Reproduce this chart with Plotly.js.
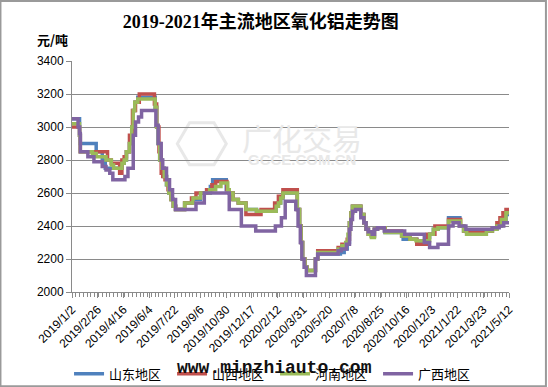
<!DOCTYPE html>
<html>
<head>
<meta charset="utf-8">
<script src="https://cdn.plot.ly/plotly-3.0.1.min.js"></script>
<style>html,body{margin:0;padding:0;background:#fff;}#chart{width:548px;height:387px;}</style>
</head>
<body>
<div id="chart"></div>
<script>
// Tick labels (every 34 trading days) and positions
const tickLabels = ["2019/1/2","2019/2/26","2019/4/16","2019/6/4","2019/7/22","2019/9/6","2019/10/30","2019/12/17","2020/2/12","2020/3/31","2020/5/20","2020/7/8","2020/8/25","2020/10/16","2020/12/3","2021/1/22","2021/3/23","2021/5/12"];
const tickDays = [0,34,68,102,136,170,204,238,272,306,340,374,408,442,476,510,544,578];

const seriesNames = ["山东地区","山西地区","河南地区","广西地区"];

// Step change points: trading-day index since 2019/1/2, price (元/吨)
const sdDay = [0,10,11,32,40,44,66,69,72,76,79,81,83,87,110,112,114,116,119,122,125,128,131,134,137,149,160,170,183,186,204,208,213,220,230,244,270,273,276,279,298,301,303,305,308,311,322,325,355,360,364,367,369,371,382,386,389,392,396,400,404,414,438,456,469,473,478,484,498,513,518,522,548,556,562,568,574,578];
const sdVal = [3050,2950,2900,2850,2800,2750,2780,2800,2850,2900,3000,3100,3150,3180,3120,3000,2900,2800,2750,2700,2650,2600,2560,2520,2500,2540,2560,2600,2640,2680,2620,2600,2560,2540,2500,2490,2520,2540,2570,2600,2500,2400,2300,2200,2150,2130,2200,2230,2240,2260,2300,2420,2480,2520,2470,2420,2380,2350,2340,2380,2390,2360,2320,2300,2330,2350,2380,2390,2450,2400,2370,2350,2370,2380,2400,2430,2470,2470];

const sxDay = [0,10,11,47,52,63,66,69,72,76,80,84,89,109,112,115,118,120,123,127,131,134,137,149,158,164,178,185,190,205,208,213,220,230,250,268,273,279,298,301,303,305,308,311,322,325,352,357,364,367,369,371,382,386,389,392,396,400,404,414,436,447,456,470,480,498,514,518,522,545,556,562,566,570,574,578];
const sxVal = [3000,2950,2850,2800,2780,2720,2800,2820,2850,2950,3100,3150,3200,3140,3000,2850,2720,2700,2680,2620,2560,2520,2500,2540,2570,2600,2620,2650,2670,2620,2600,2560,2540,2470,2500,2540,2580,2620,2500,2400,2300,2200,2150,2130,2200,2250,2270,2290,2320,2420,2480,2520,2470,2420,2380,2350,2340,2380,2390,2370,2340,2320,2290,2350,2400,2440,2400,2370,2360,2370,2390,2420,2450,2480,2500,2500];

const hnDay = [0,10,11,27,32,45,52,55,66,69,72,76,79,81,83,87,110,112,114,116,119,122,125,128,131,134,137,149,160,170,182,190,197,206,208,213,220,230,244,270,273,276,279,298,301,303,305,308,311,322,325,352,357,362,365,367,369,371,382,386,389,392,396,400,404,414,436,447,455,473,478,484,498,514,518,522,548,556,562,568,574,578];
const hnVal = [3020,2950,2850,2840,2820,2800,2770,2750,2780,2800,2850,2900,3000,3100,3150,3170,3120,3000,2900,2800,2750,2700,2650,2600,2560,2520,2500,2540,2570,2600,2620,2640,2660,2620,2600,2560,2540,2500,2490,2520,2540,2570,2600,2500,2400,2300,2200,2150,2130,2200,2240,2260,2280,2300,2350,2420,2480,2520,2470,2420,2380,2350,2330,2380,2390,2360,2340,2320,2310,2350,2380,2390,2430,2400,2370,2350,2370,2380,2400,2440,2480,2480];

const gxDay = [0,8,10,11,21,29,40,45,50,54,70,74,81,84,88,92,111,114,118,120,125,129,133,137,164,175,208,224,243,269,277,282,296,299,302,304,307,310,322,325,352,356,363,367,369,371,375,382,386,389,392,397,400,404,413,440,466,473,484,498,504,512,521,556,565,571,578];
const gxVal = [3050,3000,2960,2850,2820,2790,2760,2740,2720,2680,2700,2750,2950,3030,3060,3100,3010,2900,2800,2750,2680,2620,2560,2500,2540,2600,2500,2400,2370,2400,2450,2550,2500,2400,2300,2200,2150,2100,2200,2230,2250,2260,2290,2380,2440,2490,2500,2450,2420,2380,2365,2350,2380,2390,2370,2350,2300,2270,2290,2400,2420,2400,2380,2390,2400,2420,2420];

const colors = ["#4F81BD","#C0504D","#9BBB59","#8064A2"];
const xs = [sdDay, sxDay, hnDay, gxDay];
const ys = [sdVal, sxVal, hnVal, gxVal];

const traces = seriesNames.map((n,i)=>({
  type:'scatter', mode:'lines', name:n, x:xs[i], y:ys[i],
  line:{color:colors[i], width:3.5, shape:'hv'}
}));

// faint watermark hexagon (paper coordinates)
const hx = 0.297, hy = 0.642, rx = 0.056, ry = 0.105;
let hexPath = '';
for (let k=0;k<6;k++){
  const a = Math.PI/3*k;
  hexPath += (k===0?'M':'L') + (hx+rx*Math.cos(a)).toFixed(4) + ',' + (hy+ry*Math.sin(a)).toFixed(4) + ' ';
}
hexPath += 'Z';

const grid = '#8a8a8a';
const layout = {
  width:548, height:387,
  margin:{l:72, r:39, t:61, b:95},
  paper_bgcolor:'#fff', plot_bgcolor:'#fff',
  showlegend:true,
  title:{text:'2019-2021年主流地区氧化铝走势图', x:0.476, xref:'container', xanchor:'center', y:0.943, yref:'container', yanchor:'middle',
    font:{family:'"Liberation Serif", "Noto Sans CJK SC", serif', size:18, color:'#000', weight:'bold'}},
  xaxis:{range:[0,578], tickmode:'array', tickvals:tickDays, ticktext:tickLabels, tickangle:-45,
    showgrid:false, zeroline:false, showline:true, linecolor:grid, linewidth:1,
    ticks:'outside', ticklen:5, tickcolor:grid,
    minor:{dtick:5, tick0:0, ticks:'outside', ticklen:4, tickcolor:grid, showgrid:false},
    tickfont:{family:'"Liberation Sans", Arial, sans-serif', size:12, color:'#000'}},
  yaxis:{range:[2000,3400], dtick:200, tick0:2000, showgrid:true, gridcolor:grid, gridwidth:1,
    zeroline:false, showline:true, linecolor:grid, linewidth:1, ticks:'outside', ticklen:5, tickcolor:grid,
    tickfont:{family:'"Liberation Sans", Arial, sans-serif', size:12, color:'#000'}},
  legend:{orientation:'h', xref:'container', yref:'container', x:0.126, xanchor:'left', y:0.034, yanchor:'middle',
    font:{family:'"Noto Sans CJK SC", sans-serif', size:13, color:'#000'}, entrywidth:58, entrywidthmode:'pixels',
    itemwidth:30, bgcolor:'rgba(0,0,0,0)'},
  annotations:[
    {text:'元/吨', xref:'paper', yref:'paper', x:-0.0446, y:1.092, xanchor:'center', yanchor:'middle', showarrow:false,
     font:{family:'"Noto Sans CJK SC", sans-serif', size:13, color:'#000', weight:'bold'}},
    {text:'广化交易', xref:'paper', yref:'paper', x:0.526, y:0.672, xanchor:'center', yanchor:'middle', showarrow:false,
     font:{family:'"Noto Sans CJK SC", sans-serif', size:30, color:'#e8e8e8'}},
    {text:'GCCE.COM.CN', xref:'paper', yref:'paper', x:0.526, y:0.575, xanchor:'center', yanchor:'middle', showarrow:false,
     font:{family:'"Liberation Sans", sans-serif', size:15, color:'#e8e8e8', weight:'bold'}},
    {text:'www.minzhiauto.com', xref:'paper', yref:'paper', x:0.463, y:-0.33, xanchor:'center', yanchor:'middle', showarrow:false,
     font:{family:'"Liberation Mono", "DejaVu Sans Mono", monospace', size:18, color:'#111', weight:'bold'}}
  ],
  shapes:[
    {type:'path', xref:'paper', yref:'paper', path:hexPath, line:{color:'#e8e8e8', width:3}, layer:'below'},
    {type:'rect', xref:'paper', yref:'paper', x0:-0.1637, x1:1.0845, y0:-0.4078, y1:1.2597, line:{color:'#9a9a9a', width:2}}
  ]
};
Plotly.newPlot('chart', traces, layout, {staticPlot:true, displayModeBar:false});
</script>
</body>
</html>
